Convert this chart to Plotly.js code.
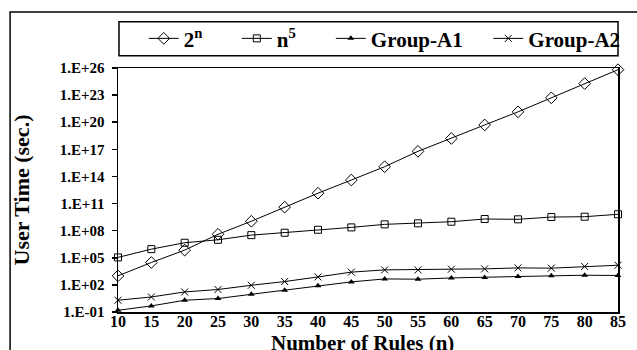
<!DOCTYPE html>
<html>
<head>
<meta charset="utf-8">
<script src="https://cdn.plot.ly/plotly-3.0.1.min.js"></script>
<style>
html,body{margin:0;padding:0;background:#fff;}
#chart{width:637px;height:350px;}
</style>
</head>
<body>
<div id="chart"></div>
<script>
var rules = [10, 15, 20, 25, 30, 35, 40, 45, 50, 55, 60, 65, 70, 75, 80, 85];
var twoPowN = [1.0e3, 3.0e4, 7.0e5, 4.0e7, 1.1e9, 4.0e10, 1.4e12, 4.0e13, 1.2e15, 6.0e16, 1.6e18, 5.0e19, 1.4e21, 5.0e22, 1.9e24, 6.5e25];
var nPow5 = [1.1e5, 9.0e5, 4.6e6, 9.8e6, 3.2e7, 5.9e7, 1.26e8, 2.3e8, 5.0e8, 6.5e8, 9.8e8, 1.95e9, 1.8e9, 3.2e9, 3.5e9, 6.5e9];
var groupA1 = [0.155, 0.47, 2.0, 3.1, 9.1, 25.7, 78, 214, 457, 427, 589, 661, 851, 1000, 1175, 1100];
var groupA2 = [2.0, 4.6, 16.6, 31, 91, 234, 760, 2570, 4570, 4570, 5500, 5900, 7600, 7100, 11000, 15000];
var yTickVals = [1e-1, 1e2, 1e5, 1e8, 1e11, 1e14, 1e17, 1e20, 1e23, 1e26];
var yTickText = ["1.E-01", "1.E+02", "1.E+05", "1.E+08", "1.E+11", "1.E+14", "1.E+17", "1.E+20", "1.E+23", "1.E+26"];
var seriesNames = ["2<sup>n</sup>", "n<sup>5</sup>", "Group-A1", "Group-A2"];
var xTitle = "Number of Rules (n)";
var yTitle = "User Time (sec.)";

var FONT = "Liberation Serif, Times New Roman, serif";
var lineStyle = {color: "#000", width: 1};

var traces = [
  {x: rules, y: twoPowN, name: seriesNames[0], legend: "legend",
   mode: "lines+markers", line: lineStyle, cliponaxis: false,
   marker: {symbol: "diamond-open", size: 9, color: "#000", line: {width: 1, color: "#000"}}},
  {x: rules, y: nPow5, name: seriesNames[1], legend: "legend2",
   mode: "lines+markers", line: lineStyle, cliponaxis: false,
   marker: {symbol: "square-open", size: 7, color: "#000", line: {width: 1, color: "#000"}}},
  {x: rules, y: groupA1, name: seriesNames[2], legend: "legend3",
   mode: "lines+markers", line: lineStyle, cliponaxis: false,
   marker: {symbol: "triangle-up", size: 6, color: "#000", line: {width: 0}}},
  {x: rules, y: groupA2, name: seriesNames[3], legend: "legend4",
   mode: "lines+markers", line: lineStyle, cliponaxis: false,
   marker: {symbol: "x-thin-open", size: 7, color: "#000", line: {width: 1, color: "#000"}}}
];

function leg(x) {
  return {x: x, y: 1.12, xanchor: "left", yanchor: "middle", orientation: "h",
    bgcolor: "rgba(0,0,0,0)", borderwidth: 0,
    font: {family: FONT, size: 21, color: "#000", weight: "bold"}};
}

var layout = {
  width: 637, height: 350,
  margin: {l: 118, r: 14, t: 68, b: 38},
  paper_bgcolor: "#fff", plot_bgcolor: "#fff",
  font: {family: FONT, color: "#000", weight: "bold"},
  showlegend: true,
  legend: leg(0.0515),
  legend2: leg(0.2376),
  legend3: leg(0.4257),
  legend4: leg(0.7406),
  xaxis: {
    type: "linear", range: [10, 85],
    tickmode: "array", tickvals: rules, ticktext: rules.map(String),
    ticks: "", showgrid: false, zeroline: false, ticklabelstandoff: -6,
    showline: true, linecolor: "#000", linewidth: 1.5, mirror: true,
    tickfont: {family: FONT, size: 16, color: "#000", weight: "bold"},
    automargin: false
  },
  yaxis: {
    type: "log", range: [-1, 26],
    tickmode: "array", tickvals: yTickVals, ticktext: yTickText,
    ticks: "outside", ticklen: 5, tickwidth: 1.5, tickcolor: "#000",
    ticklabelstandoff: 4,
    showgrid: false, zeroline: false,
    showline: true, linecolor: "#000", linewidth: 1.5, mirror: true,
    tickfont: {family: FONT, size: 15, color: "#000", weight: "bold"},
    title: {text: yTitle, standoff: 24,
      font: {family: FONT, size: 22, color: "#000", weight: "bold"}},
    automargin: false
  },
  annotations: [
    {text: xTitle, xref: "paper", yref: "paper", x: 0.488, y: -0.07,
     xanchor: "center", yanchor: "top", showarrow: false,
     font: {family: FONT, size: 21, color: "#000", weight: "bold"}}
  ],
  shapes: [
    {type: "rect", xref: "paper", yref: "paper", x0: 0.002, x1: 1.0, y0: 1.0504, y1: 1.1898,
     line: {color: "#000", width: 1.5}, fillcolor: "rgba(0,0,0,0)"},
    {type: "rect", xref: "paper", yref: "paper", x0: -0.2158, x1: 1.1, y0: -0.35, y1: 1.2295,
     line: {color: "#000", width: 1.5}, fillcolor: "rgba(0,0,0,0)"}
  ]
};

Plotly.newPlot("chart", traces, layout, {staticPlot: true, displayModeBar: false});
</script>
</body>
</html>
